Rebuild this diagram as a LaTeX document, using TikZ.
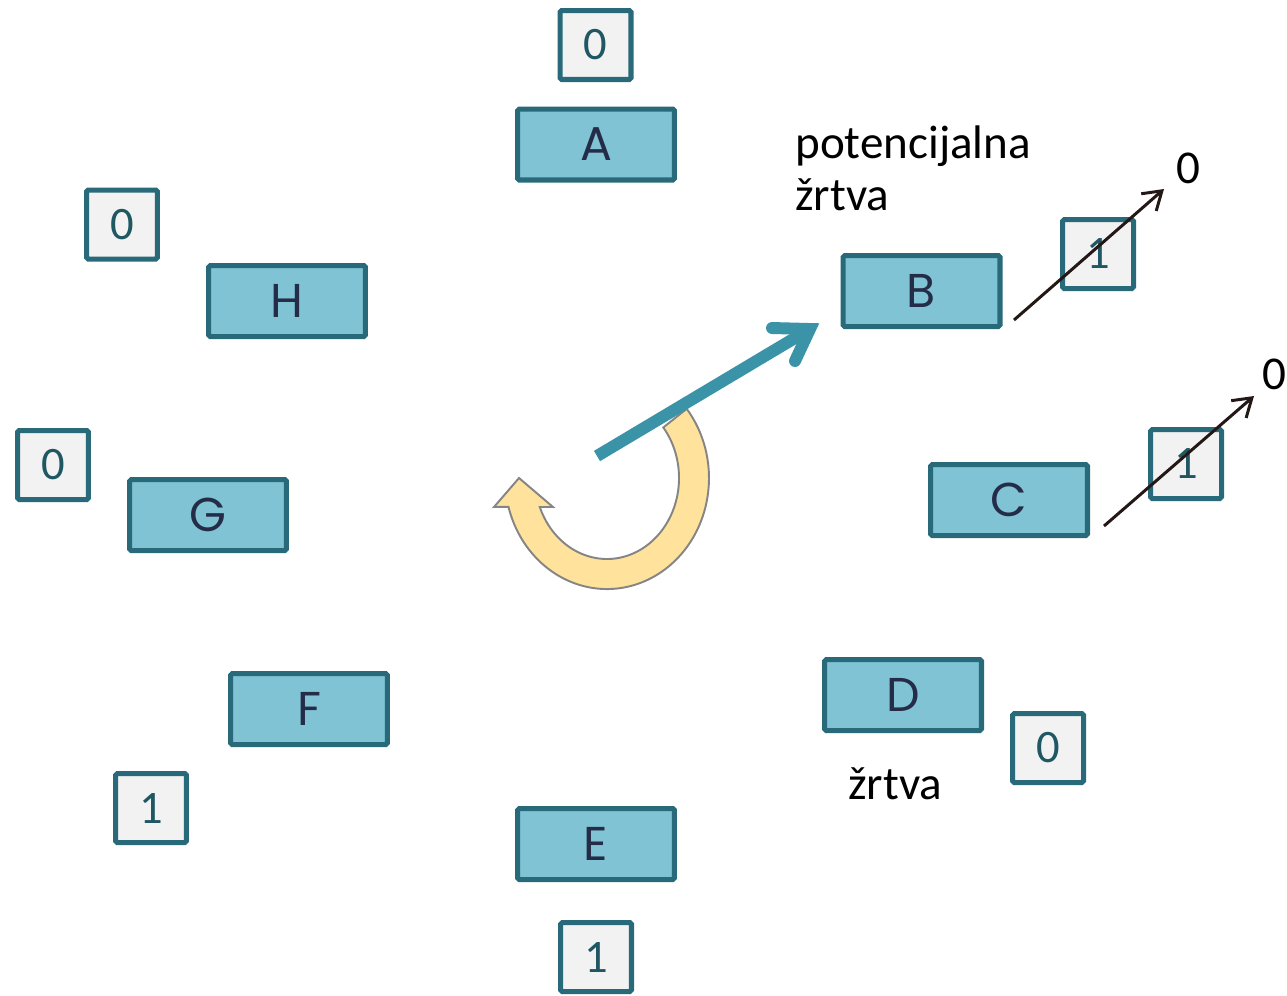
\documentclass[tikz,border=0pt]{standalone}
\usepackage{fontspec}
\setmainfont{Carlito}
\newfontfamily\letterfont{Poppins}
\usetikzlibrary{arrows.meta,calc}
\definecolor{boxfill}{HTML}{7FC3D4}
\definecolor{boxline}{HTML}{286A79}
\definecolor{lettercol}{HTML}{252C48}
\definecolor{valfill}{HTML}{F2F2F2}
\definecolor{valtext}{HTML}{1F5863}
\definecolor{bluearrow}{HTML}{3B93A7}
\definecolor{curvefill}{HTML}{FFE29B}
\definecolor{curveline}{HTML}{858585}
\definecolor{darkarrow}{HTML}{231815}
\tikzset{
  procbox/.style={draw=boxline, fill=boxfill, line width=2.85pt, rounded corners=1pt,
    minimum width=3.14cm, minimum height=1.42cm, inner sep=0pt,
    text=lettercol, font=\letterfont\fontsize{27}{30}\selectfont},
  valbox/.style={draw=boxline, fill=valfill, line width=2.85pt, rounded corners=1pt,
    minimum width=1.42cm, minimum height=1.38cm, inner sep=0pt,
    text=valtext, font=\fontsize{26.5}{30}\selectfont},
  plaintext/.style={inner sep=0pt, text=black, font=\fontsize{26.8}{29.6}\selectfont},
  passarrow/.style={draw=darkarrow, line width=1.7pt,
    -{Straight Barb[length=10pt,width=13pt,line width=1.7pt]}},
}
\begin{document}
\begin{tikzpicture}[x=0.02cm,y=-0.02cm]
\useasboundingbox (0,0) rectangle (1287,995);

% circular "clock hand" arrow (drawn first, lies under the pointer)
\path[fill=curvefill, draw=curveline, line width=1.1pt, line join=miter]
  (686.7,408.8) arc[start angle=-38.6, end angle=165, x radius=102, y radius=111]
  -- (494,507) -- (519,478) -- (553,507) -- (539.8,507)
  arc[start angle=159, end angle=-38.6, x radius=72, y radius=81]
  -- cycle;

% pointer toward B
\coordinate (ptail) at (597,456);
\coordinate (ptip) at (810,329);
\coordinate (pwingA) at (772,328);
\coordinate (pwingB) at (795,361);
\draw[bluearrow, line width=6.8pt] (ptail) -- ($(ptip)!0.03!(ptail)$);
\draw[bluearrow, line width=6.8pt, line cap=round, line join=miter] (pwingA) -- (ptip) -- (pwingB);

% processes
\node[procbox] (A) at (596,144.5) {A};
\node[procbox] (B) at (921.5,291) {B};
\node[procbox] (C) at (1009,500) {C};
\node[procbox] (D) at (903,695) {D};
\node[procbox] (E) at (596,844) {E};
\node[procbox] (F) at (309,709) {F};
\node[procbox] (G) at (208,515) {G};
\node[procbox] (H) at (287,301) {H};

% use bits
\node[valbox] (vA) at (595.5,45) {0};
\node[valbox] (vB) at (1098,254) {1};
\node[valbox] (vC) at (1186,464) {1};
\node[valbox] (vD) at (1048,748) {0};
\node[valbox] (vE) at (596,957) {1};
\node[valbox] (vF) at (151,808) {1};
\node[valbox] (vG) at (53,465) {0};
\node[valbox] (vH) at (122,224.5) {0};

% labels
\node[plaintext, anchor=base west, align=left] (cand) at (795,210) {potencijalna\\žrtva};
\node[plaintext, anchor=base west] (victim) at (848,799) {žrtva};

% bits being cleared
\node[plaintext] (nB) at (1188,168) {0};
\node[plaintext] (nC) at (1274.5,374) {0};
\coordinate (sB) at (1014,320);
\coordinate (eB) at (1164,189);
\coordinate (sC) at (1104,526);
\coordinate (eC) at (1254,396);
\draw[passarrow] (sB) -- (eB);
\draw[passarrow] (sC) -- (eC);
\end{tikzpicture}
\end{document}
